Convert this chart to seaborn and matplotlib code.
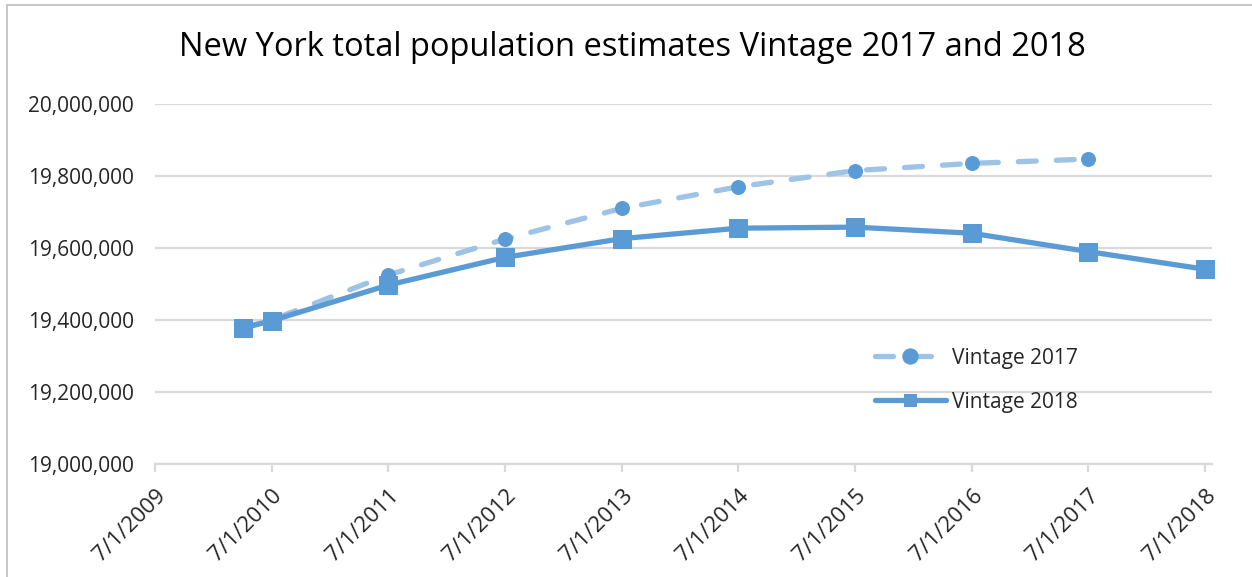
import matplotlib
matplotlib.use("Agg")
import matplotlib.pyplot as plt
import matplotlib.ticker as mticker
import pandas as pd
import seaborn as sns

# ---- data ----
dates = ["2010-04-01", "2010-07-01", "2011-07-01", "2012-07-01", "2013-07-01",
         "2014-07-01", "2015-07-01", "2016-07-01", "2017-07-01", "2018-07-01"]
vintage_2017 = [19378000, 19400000, 19525000, 19625000, 19710000,
                19770000, 19815000, 19835000, 19847000, None]
vintage_2018 = [19377000, 19398000, 19497000, 19574000, 19626000,
                19655000, 19658000, 19641000, 19590000, 19541000]
tick_dates = ["2009-07-01", "2010-07-01", "2011-07-01", "2012-07-01", "2013-07-01",
              "2014-07-01", "2015-07-01", "2016-07-01", "2017-07-01", "2018-07-01"]
tick_labels = ["7/1/2009", "7/1/2010", "7/1/2011", "7/1/2012", "7/1/2013",
               "7/1/2014", "7/1/2015", "7/1/2016", "7/1/2017", "7/1/2018"]
y_ticks = [19000000, 19200000, 19400000, 19600000, 19800000, 20000000]
title = "New York total population estimates Vintage 2017 and 2018"
series_names = ["Vintage 2017", "Vintage 2018"]

df17 = pd.DataFrame({"date": pd.to_datetime(dates), "pop": vintage_2017}).dropna()
df18 = pd.DataFrame({"date": pd.to_datetime(dates), "pop": vintage_2018})

sns.set_style("white")
plt.rcParams["font.family"] = ["Open Sans", "DejaVu Sans"]

W, H = 1252, 577
fig = plt.figure(figsize=(W / 100, H / 100), dpi=100)
ax = fig.add_axes([155 / W, 1 - 464 / H, (1212 - 155) / W, (464 - 104) / H])

dark = "#5B9BD5"
light = "#9DC3E6"
grid = "#D9D9D9"
text_c = "#262626"

sns.lineplot(data=df17, x="date", y="pop", ax=ax, color=light, lw=3.8,
             marker="o", markersize=10, markerfacecolor=dark, markeredgecolor=dark,
             label=series_names[0], clip_on=False)
ax.lines[-1].set_dashes((3.4, 3.8))
ax.lines[-1].set_dash_capstyle("round")
sns.lineplot(data=df18, x="date", y="pop", ax=ax, color=dark, lw=3.8,
             marker="s", markersize=13, markerfacecolor=dark, markeredgecolor=dark,
             label=series_names[1], clip_on=False)

ax.set_ylim(19000000, 20000000)
ax.set_yticks(y_ticks)
ax.yaxis.set_major_formatter(mticker.FuncFormatter(lambda v, p: f"{int(v):,}"))
ax.set_xlim(pd.Timestamp("2009-07-01"), pd.Timestamp("2018-07-23"))
ax.set_xticks(pd.to_datetime(tick_dates))
ax.set_xticklabels(tick_labels, rotation=45, ha="right", va="top",
                   rotation_mode="anchor")

ax.set_xlabel("")
ax.set_ylabel("")
ax.grid(axis="y", color=grid, lw=1.6)
ax.set_axisbelow(True)
for s in ["top", "right", "left"]:
    ax.spines[s].set_visible(False)
ax.spines["bottom"].set_color(grid)
ax.spines["bottom"].set_linewidth(1.6)
ax.tick_params(axis="x", bottom=True, length=6, width=1.6, color=grid,
               labelsize=16, labelcolor=text_c, pad=9)
ax.tick_params(axis="y", left=False, length=0, labelsize=15, labelcolor=text_c, pad=15)

leg = ax.legend(loc="upper left", bbox_to_anchor=(856 / W, 1 - 329 / H),
                bbox_transform=fig.transFigure, frameon=False, fontsize=15,
                handlelength=3.4, handletextpad=0.3, labelspacing=1.1)
for t in leg.get_texts():
    t.set_color(text_c)
hs = leg.legend_handles
hs[0].set_markersize(11)
hs[1].set_markersize(9)

fig.text(632 / W, 1 - 47 / H, title, ha="center", va="center",
         fontsize=23.5, color="#000000")

fig.patches.append(plt.Rectangle((7 / W, -0.1), 1.2, 1 - 5 / H + 0.1,
                                 transform=fig.transFigure, fill=False,
                                 edgecolor="#BFBFBF", lw=1.2, figure=fig))

fig.savefig("out.png", dpi=100, facecolor="white")
